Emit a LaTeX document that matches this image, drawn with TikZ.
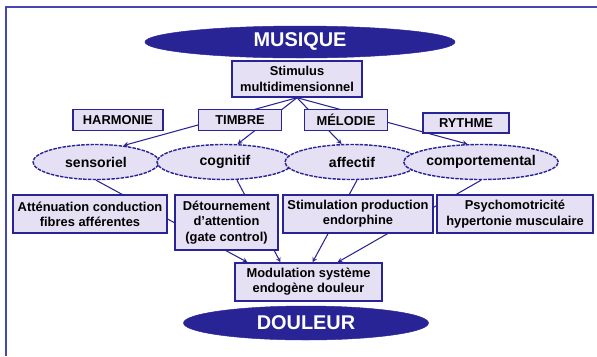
\documentclass[tikz,border=0pt]{standalone}
\usepackage{fontspec}
\setmainfont{Liberation Sans}
\usetikzlibrary{shapes.geometric,backgrounds}
\definecolor{navy}{RGB}{40,36,150}
\definecolor{lilac}{RGB}{230,224,244}
\definecolor{framebl}{RGB}{70,70,180}

\begin{document}
\begin{tikzpicture}[x=0.03cm, y=-0.03cm, >=stealth,
  box/.style = {shape=rectangle, draw=navy, fill=lilac, line width=1.2pt,
    align=center, inner sep=1pt, font=\bfseries\fontsize{11}{13}\selectfont},
  oval/.style = {shape=ellipse, draw=navy, fill=lilac, line width=1.2pt,
    dash pattern=on 3pt off 1pt,
    inner sep=0pt, minimum height=1.05cm, font=\bfseries\fontsize{12}{14}\selectfont},
  bigoval/.style = {shape=ellipse, draw=navy, fill=navy, text=white,
    inner sep=0pt, font=\bfseries\fontsize{17}{19}\selectfont},
  link/.style = {->, draw=navy, line width=0.9pt}]
  \useasboundingbox (0,0) rectangle (597,356);
  \draw[framebl, line width=1.5pt] (6,356) -- (6,7) -- (597,7);

  \node[bigoval, minimum width=9.3cm, minimum height=0.96cm] (musique) at (300,42) {MUSIQUE};
  \node[box, minimum width=3.9cm, minimum height=1.08cm] (stimulus) at (297,79) {Stimulus\\multidimensionnel};

  \node[box, minimum width=2.7cm, minimum height=0.63cm] (harmonie) at (118,120) {HARMONIE};
  \node[box, minimum width=2.49cm, minimum height=0.63cm] (timbre) at (240,120) {TIMBRE};
  \node[box, minimum width=2.49cm, minimum height=0.63cm] (melodie) at (346,120) {MÉLODIE};
  \node[box, minimum width=2.58cm, minimum height=0.6cm] (rythme) at (466,123) {RYTHME};

  \node[oval, minimum width=3.78cm] (sensoriel) at (96,162) {sensoriel};
  \node[oval, minimum width=4.08cm] (cognitif) at (225,162) {cognitif};
  \node[oval, minimum width=4.02cm] (affectif) at (352,162) {affectif};
  \node[oval, minimum width=4.56cm] (comport) at (481,162) {comportemental};

  \node[box, minimum width=4.62cm, minimum height=1.14cm] (attenuation) at (90,214) {Atténuation conduction\\fibres afférentes};
  \node[box, minimum width=3.09cm, minimum height=1.65cm] (detour) at (226.5,222.5) {Détournement\\d'attention\\(gate control)};
  \node[box, minimum width=4.5cm, minimum height=1.14cm] (endorph) at (358,214) {Stimulation production\\endorphine};
  \node[box, minimum width=4.68cm, minimum height=1.14cm] (psycho) at (515,214) {Psychomotricité\\hypertonie musculaire};

  \node[box, minimum width=4.41cm, minimum height=1.14cm] (modul) at (308.5,282) {Modulation système\\endogène douleur};
  \node[bigoval, minimum width=7.35cm, minimum height=1.02cm] (douleur) at (306,323) {DOULEUR};

  \begin{pgfonlayer}{background}
    \draw[link] (stimulus.south) -- (sensoriel.31);
    \draw[link] (stimulus.south) -- (cognitif.55);
    \draw[link] (stimulus.south) -- (affectif.120);
    \draw[link] (stimulus.south) -- (comport.127);
    \draw[link] (sensoriel.south) -- ([xshift=-1.83cm]modul.north);
    \draw[link] ([xshift=0.36cm]cognitif.south) -- ([xshift=-0.84cm]modul.north);
    \draw[link] ([xshift=0.15cm]affectif.south) -- ([xshift=0.12cm]modul.north);
    \draw[link] (comport.south) -- ([xshift=0.87cm]modul.north);
  \end{pgfonlayer}
\end{tikzpicture}
\end{document}
